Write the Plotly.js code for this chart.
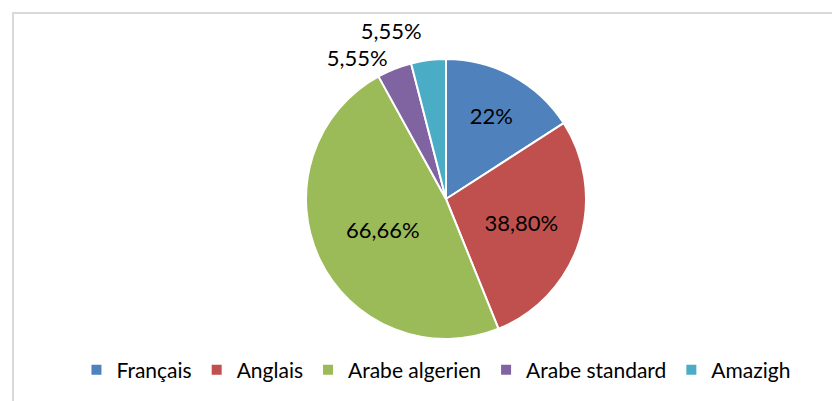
<!DOCTYPE html>
<html><head><meta charset="utf-8">
<script src="https://cdn.plot.ly/plotly-3.0.1.min.js"></script>
<style>
html,body{margin:0;padding:0;background:#fff;}
#frame{position:absolute;left:12px;top:12px;width:830px;height:400px;border-left:2px solid #d9d9d9;border-top:2px solid #d9d9d9;box-sizing:border-box;}
#chart{position:absolute;left:0;top:0;width:832px;height:401px;}
#chart path.textline{display:none;}
</style></head>
<body>
<div id="frame"></div>
<div id="chart"></div>
<script>
const labels = ["Français", "Anglais", "Arabe algerien", "Arabe standard", "Amazigh"];
const values = [22, 38.80, 66.66, 5.55, 5.55];
const valueText = ["22%", "38,80%", "66,66%", "5,55%", "5,55%"];
const colors = ["#4F81BD", "#C0504D", "#9BBB59", "#8064A2", "#4BACC6"];
const positions = ["inside", "inside", "inside", "outside", "outside"];

const W = 832, H = 401, cx = 446, cy = 199, R = 140;
const FONT = "Lato, 'Open Sans', sans-serif";

Plotly.newPlot("chart", [{
  type: "pie",
  labels: labels,
  values: values,
  text: valueText,
  texttemplate: "%{text}",
  textposition: positions,
  insidetextorientation: "horizontal",
  sort: false,
  direction: "clockwise",
  rotation: 0,
  marker: {colors: colors, line: {color: "#ffffff", width: 2}},
  textfont: {family: FONT, size: 22, color: "#000000"},
  domain: {x: [(cx - R) / W, (cx + R) / W], y: [1 - (cy + R) / H, 1 - (cy - R) / H]},
  hoverinfo: "none"
}], {
  width: W, height: H,
  margin: {l: 0, r: 0, t: 0, b: 0},
  paper_bgcolor: "rgba(0,0,0,0)",
  plot_bgcolor: "rgba(0,0,0,0)",
  showlegend: true,
  legend: {orientation: "h", x: 0.524, xanchor: "center", y: 1 - 370 / H, yanchor: "middle",
    font: {family: FONT, size: 21, color: "#000000"},
    itemwidth: 30, traceorder: "normal"},
  font: {family: FONT}
}, {displayModeBar: false, staticPlot: true});
</script>
</body></html>
